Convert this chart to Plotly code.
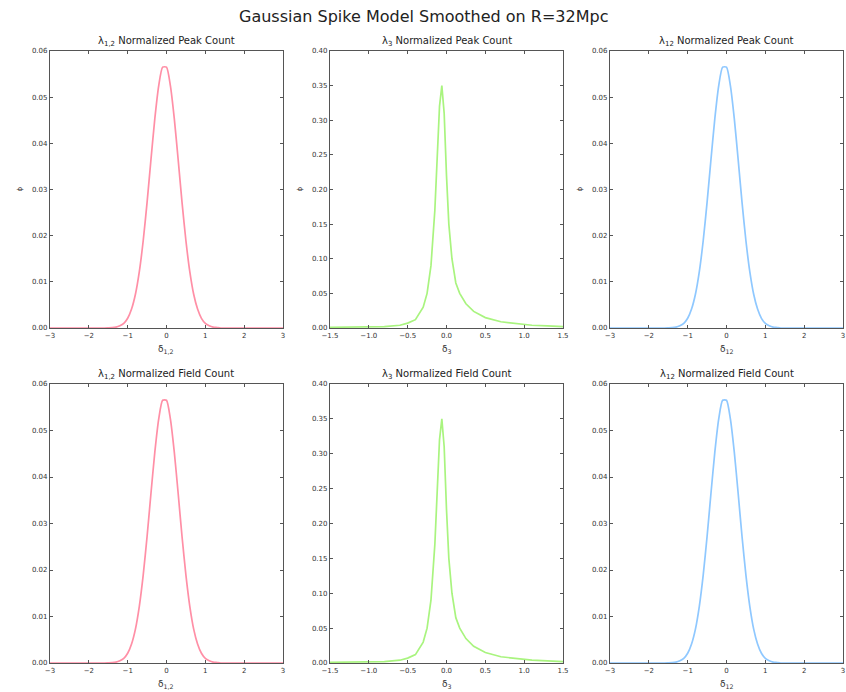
import plotly.graph_objects as go

# ---- data -------------------------------------------------------------
# lambda_{1,2}: wide distribution (peak counts / field counts)
x_12 = [-3.0, -1.6, -1.5, -1.4, -1.3, -1.2, -1.1, -1.0, -0.9, -0.8, -0.7, -0.6,
        -0.5, -0.4, -0.3, -0.2, -0.1, 0.0, 0.1, 0.2, 0.3, 0.4, 0.5, 0.6, 0.7,
        0.8, 0.9, 1.0, 1.1, 1.2, 1.3, 1.4, 3.0]
peak_12 = [0.0, 0.0, 0.00003, 0.00007, 0.0002, 0.0005, 0.001, 0.0021, 0.0041,
           0.0073, 0.0122, 0.0189, 0.0272, 0.0365, 0.0454, 0.0525, 0.0565,
           0.0565, 0.0525, 0.0454, 0.0365, 0.0272, 0.0189, 0.0122, 0.0073,
           0.0041, 0.0021, 0.001, 0.0005, 0.0002, 0.0001, 0.0, 0.0]
field_12 = [0.0, 0.0, 0.00003, 0.00007, 0.0002, 0.0005, 0.001, 0.0021, 0.0041,
            0.0073, 0.0122, 0.0189, 0.0272, 0.0365, 0.0454, 0.0525, 0.0565,
            0.0565, 0.0525, 0.0454, 0.0365, 0.0272, 0.0189, 0.0122, 0.0073,
            0.0041, 0.0021, 0.001, 0.0005, 0.0002, 0.0001, 0.0, 0.0]

# lambda_3: narrow spike with a heavy right tail
x_3 = [-1.5, -1.2, -1.0, -0.8, -0.6, -0.5, -0.4, -0.3, -0.25, -0.2, -0.15,
       -0.12, -0.09, -0.06, -0.03, 0.0, 0.03, 0.07, 0.12, 0.17, 0.25, 0.35,
       0.5, 0.7, 0.9, 1.1, 1.3, 1.5]
peak_3 = [0.001, 0.001, 0.0015, 0.002, 0.004, 0.007, 0.012, 0.03, 0.05, 0.09,
          0.17, 0.25, 0.32, 0.35, 0.31, 0.22, 0.15, 0.10, 0.065, 0.05, 0.035,
          0.024, 0.015, 0.009, 0.006, 0.004, 0.003, 0.002]
field_3 = [0.001, 0.001, 0.0015, 0.002, 0.004, 0.007, 0.012, 0.03, 0.05, 0.09,
           0.17, 0.25, 0.32, 0.35, 0.31, 0.22, 0.15, 0.10, 0.065, 0.05, 0.035,
           0.024, 0.015, 0.009, 0.006, 0.004, 0.003, 0.002]

# lambda_{12}
x_r = list(x_12)
peak_r = [0.0, 0.0, 0.00003, 0.00007, 0.0002, 0.0005, 0.001, 0.0021, 0.0041,
          0.0073, 0.0122, 0.0189, 0.0272, 0.0365, 0.0454, 0.0525, 0.0565,
          0.0565, 0.0525, 0.0454, 0.0365, 0.0272, 0.0189, 0.0122, 0.0073,
          0.0041, 0.0021, 0.001, 0.0005, 0.0002, 0.0001, 0.0, 0.0]
field_r = list(peak_r)

ticks_wide = [-3, -2, -1, 0, 1, 2, 3]
ticks_narrow = [-1.5, -1.0, -0.5, 0.0, 0.5, 1.0, 1.5]
yticks_small = [0.0, 0.01, 0.02, 0.03, 0.04, 0.05, 0.06]
yticks_big = [0.0, 0.05, 0.10, 0.15, 0.20, 0.25, 0.30, 0.35, 0.40]

col_titles = ["λ<sub>1,2</sub>", "λ<sub>3</sub>", "λ<sub>12</sub>"]
x_labels = ["δ<sub>1,2</sub>", "δ<sub>3</sub>", "δ<sub>12</sub>"]
colors = ["#ff8fa6", "#a9f47f", "#8fc8ff"]

W, H = 846, 692
cols_px = [(50, 283), (330, 563), (610, 843)]
rows_px = [(51, 328), (384, 663)]

panels = [
    # (row, col, x, y, xrange, xticks, yrange, yticks, kind)
    (0, 0, x_12, peak_12, [-3, 3], ticks_wide, [0, 0.06], yticks_small, "Peak"),
    (0, 1, x_3, peak_3, [-1.5, 1.5], ticks_narrow, [0, 0.40], yticks_big, "Peak"),
    (0, 2, x_r, peak_r, [-3, 3], ticks_wide, [0, 0.06], yticks_small, "Peak"),
    (1, 0, x_12, field_12, [-3, 3], ticks_wide, [0, 0.06], yticks_small, "Field"),
    (1, 1, x_3, field_3, [-1.5, 1.5], ticks_narrow, [0, 0.40], yticks_big, "Field"),
    (1, 2, x_r, field_r, [-3, 3], ticks_wide, [0, 0.06], yticks_small, "Field"),
]

fig = go.Figure()
annotations = []
layout = {}
font_family = "DejaVu Sans"
axis_color = "#555555"

for i, (r, c, xs, ys, xr, xt, yr, yt, kind) in enumerate(panels):
    n = i + 1
    xa = "xaxis" if n == 1 else f"xaxis{n}"
    ya = "yaxis" if n == 1 else f"yaxis{n}"
    xref = "x" if n == 1 else f"x{n}"
    yref = "y" if n == 1 else f"y{n}"
    x0, x1 = cols_px[c]
    y0, y1 = rows_px[r]
    xdom = [x0 / W, x1 / W]
    ydom = [1 - y1 / H, 1 - y0 / H]

    fig.add_trace(go.Scatter(x=xs, y=ys, mode="lines", xaxis=xref, yaxis=yref,
                             line=dict(color=colors[c], width=1.7,
                                       shape="spline" if c != 1 else "linear",
                                       smoothing=0.6),
                             showlegend=False, hoverinfo="skip"))

    xfmt = ".1f" if c == 1 else "d"
    layout[xa] = dict(domain=xdom, anchor=yref, range=xr, tickvals=xt,
                      tickformat=xfmt, showgrid=False, zeroline=False,
                      automargin=False,
                      showline=True, linecolor=axis_color, linewidth=1.2,
                      mirror="allticks", ticks="inside", ticklen=3,
                      tickcolor=axis_color,
                      tickfont=dict(size=7, color="#333", family=font_family))
    layout[ya] = dict(domain=ydom, anchor=xref, range=yr, tickvals=yt,
                      tickformat=".2f", showgrid=False, zeroline=False,
                      automargin=False,
                      showline=True, linecolor=axis_color, linewidth=1.2,
                      mirror="allticks", ticks="inside", ticklen=3,
                      tickcolor=axis_color,
                      tickfont=dict(size=7, color="#333", family=font_family))

    # panel title
    annotations.append(dict(text=f"{col_titles[c]} Normalized {kind} Count",
                            x=(xdom[0] + xdom[1]) / 2, y=ydom[1],
                            xref="paper", yref="paper", xanchor="center",
                            yanchor="bottom", showarrow=False, yshift=1,
                            font=dict(size=10, color="#222", family=font_family)))
    # x axis label
    annotations.append(dict(text=x_labels[c],
                            x=(xdom[0] + xdom[1]) / 2, y=ydom[0],
                            xref="paper", yref="paper", xanchor="center",
                            yanchor="top", showarrow=False, yshift=-14,
                            font=dict(size=9, color="#333", family=font_family)))
    # y axis label (top row)
    if r == 0:
        annotations.append(dict(text="ϕ", x=xdom[0], y=(ydom[0] + ydom[1]) / 2,
                                xref="paper", yref="paper", xanchor="center",
                                yanchor="middle", showarrow=False, xshift=-31,
                                textangle=-90,
                                font=dict(size=7, color="#333", family=font_family)))

annotations.append(dict(text="Gaussian Spike Model Smoothed on R=32Mpc",
                        x=0.5, y=1 - 17 / H, xref="paper", yref="paper",
                        xanchor="center", yanchor="middle", showarrow=False,
                        font=dict(size=16, color="#222", family=font_family)))

fig.update_layout(width=W, height=H, margin=dict(l=0, r=0, t=0, b=0, autoexpand=False),
                  paper_bgcolor="white", plot_bgcolor="white",
                  annotations=annotations, **layout)

fig.write_html("out.html")
